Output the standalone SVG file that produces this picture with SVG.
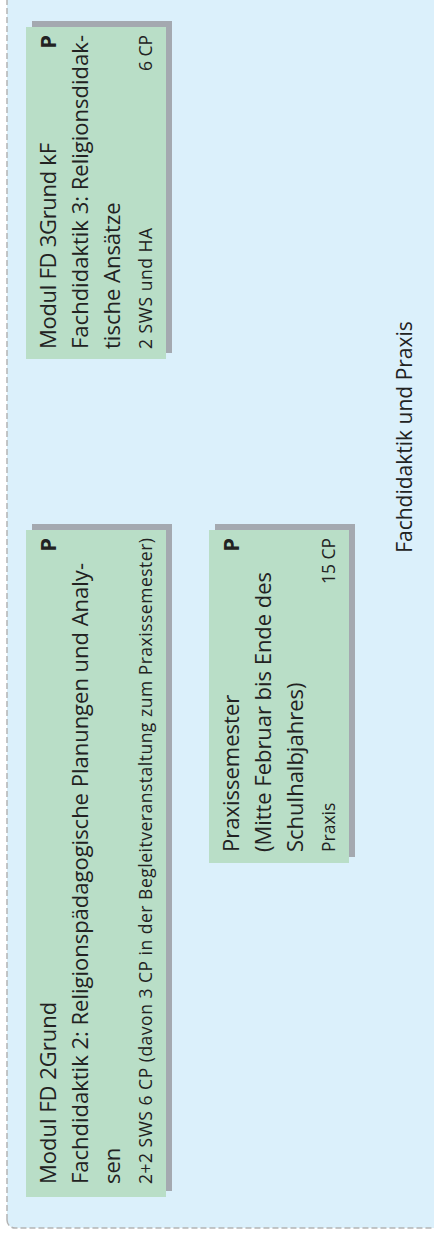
<svg xmlns="http://www.w3.org/2000/svg" width="434" height="1235" viewBox="0 0 434 1235">
<style>
.bg{fill:#dbf0fb;stroke:#b4b4b4;stroke-width:1.5;stroke-dasharray:6 3}
.sh{fill:#a4a9b0}
.bx{fill:#b9dec7}
text{font-family:"Open Sans","Noto Sans",sans-serif;fill:#222}
.m{font-size:22px}
.s{font-size:17.5px}
.b{font-size:22px;font-weight:bold;text-anchor:end}
.e{text-anchor:end}
.lbl{font-size:21px;text-anchor:middle}
</style>
<g transform="translate(0 1235) rotate(-90)">
<rect class="bg" x="7" y="7" width="1260" height="460" rx="8"/>
<g id="connectors"/>
<g id="fd3">
<rect class="sh" x="882" y="32" width="332" height="140"/>
<rect class="bx" x="876" y="26" width="332" height="140"/>
<text class="m" x="886" y="56" textLength="206" lengthAdjust="spacing">Modul FD 3Grund kF</text>
<text class="b" x="1200" y="56">P</text>
<text class="m" x="886" y="88" textLength="314" lengthAdjust="spacing">Fachdidaktik 3: Religionsdidak-</text>
<text class="m" x="886" y="120">tische Ansätze</text>
<text class="s" x="886" y="152" textLength="121" lengthAdjust="spacing">2 SWS und HA</text>
<text class="s e" x="1200" y="152">6 CP</text>
</g>
<g id="fd2">
<rect class="sh" x="44" y="32" width="667" height="140"/>
<rect class="bx" x="38" y="26" width="667" height="140"/>
<text class="m" x="51" y="56">Modul FD 2Grund</text>
<text class="b" x="697" y="56">P</text>
<text class="m" x="51" y="88" textLength="621" lengthAdjust="spacing">Fachdidaktik 2: Religionspädagogische Planungen und Analy-</text>
<text class="m" x="51" y="120">sen</text>
<text class="s" x="51" y="152" textLength="646" lengthAdjust="spacing">2+2 SWS 6 CP (davon 3 CP in der Begleitveranstaltung zum Praxissemester)</text>
</g>
<g id="praxis">
<rect class="sh" x="378" y="215" width="333" height="140"/>
<rect class="bx" x="372" y="209" width="333" height="140"/>
<text class="m" x="383" y="239">Praxissemester</text>
<text class="b" x="697" y="239">P</text>
<text class="m" x="383" y="271" textLength="280" lengthAdjust="spacing">(Mitte Februar bis Ende des</text>
<text class="m" x="383" y="303">Schulhalbjahres)</text>
<text class="s" x="383" y="335">Praxis</text>
<text class="s e" x="697" y="335">15 CP</text>
</g>
<g id="label">
<text class="lbl" x="798" y="412">Fachdidaktik und Praxis</text>
</g>
</g>
</svg>
